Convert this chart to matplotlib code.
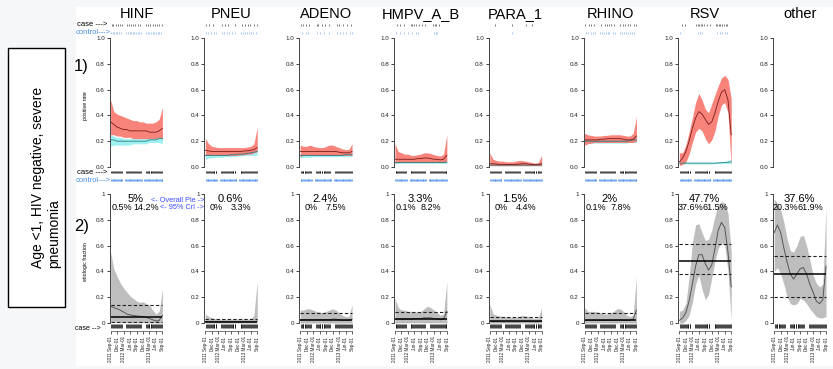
import matplotlib
matplotlib.use("Agg")
import matplotlib.pyplot as plt
from matplotlib.patches import Rectangle

plt.rcParams["font.family"] = ["Liberation Sans", "DejaVu Sans"]

W, H = 833, 369

PATHOGENS = ["HINF", "PNEU", "ADENO", "HMPV_A_B", "PARA_1", "RHINO", "RSV", "other"]

# months since 2011-09-01
MONTHS = [0, 1.5, 3, 4.5, 6, 7.5, 9, 10.5, 12, 13.5, 15, 16.5, 18, 19.5, 21, 22.5, 24]
DATE_TICKS = [0, 3, 6, 9, 12, 15, 18, 21, 24]
DATE_LABELS = ["2011 Sep-01", "Dec-01", "2012 Mar-01", "Jun-01", "Sep-01",
               "Dec-01", "2013 Mar-01", "Jun-01", "Sep-01"]

# ---- 1) positive rate: cases ----
CASE_MID = {
    "HINF":     [0.35, 0.33, 0.31, 0.30, 0.29, 0.29, 0.28, 0.28, 0.28, 0.28, 0.28, 0.28, 0.27, 0.27, 0.27, 0.28, 0.30],
    "PNEU":     [0.13, 0.125, 0.12, 0.12, 0.12, 0.12, 0.12, 0.12, 0.12, 0.12, 0.12, 0.12, 0.125, 0.125, 0.13, 0.135, 0.15],
    "ADENO":    [0.12, 0.12, 0.12, 0.12, 0.12, 0.12, 0.12, 0.12, 0.12, 0.12, 0.12, 0.12, 0.115, 0.11, 0.11, 0.11, 0.12],
    "HMPV_A_B": [0.06, 0.06, 0.06, 0.06, 0.06, 0.06, 0.06, 0.065, 0.065, 0.07, 0.07, 0.065, 0.06, 0.06, 0.055, 0.06, 0.09],
    "PARA_1":   [0.025, 0.025, 0.022, 0.02, 0.02, 0.02, 0.02, 0.02, 0.02, 0.022, 0.025, 0.025, 0.022, 0.02, 0.018, 0.018, 0.025],
    "RHINO":    [0.21, 0.21, 0.21, 0.21, 0.21, 0.215, 0.215, 0.22, 0.22, 0.22, 0.22, 0.22, 0.215, 0.21, 0.21, 0.215, 0.24],
    "RSV":      [0.04, 0.07, 0.12, 0.20, 0.30, 0.38, 0.43, 0.41, 0.37, 0.33, 0.35, 0.42, 0.51, 0.58, 0.60, 0.52, 0.25],
}
CASE_HI = {
    "HINF":     [0.52, 0.43, 0.41, 0.40, 0.39, 0.38, 0.37, 0.36, 0.36, 0.35, 0.35, 0.34, 0.34, 0.34, 0.35, 0.37, 0.46],
    "PNEU":     [0.22, 0.18, 0.16, 0.155, 0.15, 0.15, 0.15, 0.15, 0.15, 0.15, 0.15, 0.15, 0.15, 0.155, 0.16, 0.18, 0.31],
    "ADENO":    [0.17, 0.16, 0.16, 0.17, 0.16, 0.155, 0.15, 0.15, 0.16, 0.17, 0.17, 0.16, 0.15, 0.14, 0.135, 0.135, 0.18],
    "HMPV_A_B": [0.18, 0.12, 0.11, 0.10, 0.10, 0.09, 0.09, 0.095, 0.10, 0.11, 0.11, 0.105, 0.095, 0.09, 0.085, 0.10, 0.25],
    "PARA_1":   [0.11, 0.06, 0.05, 0.045, 0.045, 0.04, 0.04, 0.04, 0.045, 0.05, 0.05, 0.045, 0.04, 0.035, 0.03, 0.035, 0.09],
    "RHINO":    [0.26, 0.25, 0.245, 0.24, 0.24, 0.24, 0.245, 0.245, 0.25, 0.25, 0.25, 0.25, 0.245, 0.24, 0.24, 0.26, 0.39],
    "RSV":      [0.11, 0.11, 0.17, 0.27, 0.38, 0.50, 0.57, 0.52, 0.45, 0.42, 0.49, 0.56, 0.63, 0.69, 0.71, 0.68, 0.53],
}
CASE_LO = {
    "HINF":     [0.25, 0.25, 0.24, 0.24, 0.23, 0.23, 0.23, 0.22, 0.22, 0.22, 0.22, 0.22, 0.22, 0.22, 0.22, 0.23, 0.22],
    "PNEU":     [0.09, 0.09, 0.09, 0.09, 0.09, 0.09, 0.09, 0.09, 0.09, 0.09, 0.09, 0.095, 0.095, 0.10, 0.10, 0.11, 0.12],
    "ADENO":    [0.08, 0.09, 0.09, 0.09, 0.09, 0.09, 0.09, 0.09, 0.09, 0.09, 0.09, 0.09, 0.09, 0.09, 0.09, 0.09, 0.09],
    "HMPV_A_B": [0.03, 0.035, 0.035, 0.035, 0.035, 0.035, 0.035, 0.035, 0.035, 0.035, 0.035, 0.035, 0.035, 0.035, 0.035, 0.035, 0.04],
    "PARA_1":   [0.01, 0.01, 0.01, 0.01, 0.01, 0.01, 0.01, 0.01, 0.01, 0.01, 0.01, 0.01, 0.01, 0.01, 0.01, 0.01, 0.01],
    "RHINO":    [0.17, 0.18, 0.185, 0.19, 0.19, 0.19, 0.19, 0.19, 0.19, 0.19, 0.19, 0.19, 0.19, 0.19, 0.19, 0.19, 0.20],
    "RSV":      [0.01, 0.02, 0.04, 0.10, 0.19, 0.27, 0.30, 0.28, 0.22, 0.18, 0.21, 0.28, 0.40, 0.48, 0.50, 0.42, 0.00],
}

# ---- 1) positive rate: controls ----
CTRL_MID = {
    "HINF":     [0.21, 0.21, 0.20, 0.20, 0.20, 0.20, 0.20, 0.20, 0.20, 0.20, 0.20, 0.20, 0.21, 0.21, 0.21, 0.22, 0.22],
    "PNEU":     [0.09, 0.09, 0.09, 0.09, 0.09, 0.09, 0.09, 0.09, 0.095, 0.095, 0.10, 0.10, 0.10, 0.105, 0.11, 0.115, 0.12],
    "ADENO":    [0.09, 0.09, 0.09, 0.09, 0.09, 0.09, 0.09, 0.09, 0.09, 0.09, 0.09, 0.09, 0.09, 0.09, 0.095, 0.095, 0.095],
    "HMPV_A_B": [0.035, 0.035, 0.035, 0.035, 0.035, 0.035, 0.035, 0.035, 0.035, 0.035, 0.035, 0.035, 0.035, 0.035, 0.035, 0.036, 0.037],
    "PARA_1":   [0.015, 0.015, 0.015, 0.015, 0.015, 0.015, 0.015, 0.015, 0.015, 0.015, 0.015, 0.015, 0.015, 0.015, 0.015, 0.015, 0.016],
    "RHINO":    [0.20, 0.20, 0.20, 0.20, 0.20, 0.20, 0.20, 0.20, 0.20, 0.20, 0.20, 0.20, 0.20, 0.20, 0.205, 0.21, 0.21],
    "RSV":      [0.03, 0.03, 0.03, 0.03, 0.03, 0.03, 0.03, 0.03, 0.03, 0.03, 0.03, 0.03, 0.032, 0.033, 0.035, 0.037, 0.04],
}
CTRL_HI = {
    "HINF":     [0.25, 0.24, 0.23, 0.23, 0.22, 0.22, 0.22, 0.22, 0.22, 0.22, 0.22, 0.23, 0.23, 0.23, 0.24, 0.25, 0.27],
    "PNEU":     [0.11, 0.10, 0.10, 0.10, 0.10, 0.10, 0.10, 0.10, 0.105, 0.105, 0.11, 0.11, 0.115, 0.12, 0.125, 0.13, 0.14],
    "ADENO":    [0.10, 0.10, 0.10, 0.10, 0.10, 0.10, 0.10, 0.10, 0.10, 0.10, 0.10, 0.10, 0.10, 0.10, 0.105, 0.105, 0.11],
    "HMPV_A_B": [0.045, 0.044, 0.043, 0.043, 0.043, 0.043, 0.043, 0.043, 0.043, 0.043, 0.043, 0.043, 0.043, 0.043, 0.044, 0.046, 0.05],
    "PARA_1":   [0.022, 0.02, 0.02, 0.02, 0.02, 0.02, 0.02, 0.02, 0.02, 0.02, 0.02, 0.02, 0.02, 0.02, 0.02, 0.021, 0.024],
    "RHINO":    [0.22, 0.22, 0.215, 0.215, 0.215, 0.215, 0.215, 0.215, 0.215, 0.215, 0.215, 0.215, 0.215, 0.215, 0.22, 0.225, 0.23],
    "RSV":      [0.04, 0.038, 0.036, 0.036, 0.036, 0.036, 0.036, 0.036, 0.036, 0.036, 0.036, 0.037, 0.039, 0.041, 0.044, 0.05, 0.06],
}
CTRL_LO = {
    "HINF":     [0.16, 0.17, 0.17, 0.17, 0.17, 0.17, 0.17, 0.18, 0.18, 0.18, 0.18, 0.18, 0.19, 0.19, 0.19, 0.19, 0.18],
    "PNEU":     [0.06, 0.07, 0.07, 0.075, 0.075, 0.075, 0.08, 0.08, 0.08, 0.08, 0.085, 0.085, 0.09, 0.09, 0.09, 0.09, 0.09],
    "ADENO":    [0.07, 0.075, 0.075, 0.075, 0.08, 0.08, 0.08, 0.08, 0.08, 0.08, 0.08, 0.08, 0.08, 0.08, 0.08, 0.08, 0.08],
    "HMPV_A_B": [0.025, 0.027, 0.028, 0.028, 0.028, 0.028, 0.028, 0.028, 0.028, 0.028, 0.028, 0.028, 0.028, 0.028, 0.028, 0.027, 0.026],
    "PARA_1":   [0.009, 0.01, 0.01, 0.01, 0.01, 0.01, 0.01, 0.01, 0.01, 0.01, 0.01, 0.01, 0.01, 0.01, 0.01, 0.01, 0.009],
    "RHINO":    [0.175, 0.18, 0.185, 0.185, 0.185, 0.185, 0.185, 0.185, 0.185, 0.185, 0.185, 0.185, 0.185, 0.185, 0.19, 0.19, 0.19],
    "RSV":      [0.02, 0.022, 0.024, 0.024, 0.024, 0.024, 0.024, 0.024, 0.024, 0.024, 0.024, 0.025, 0.026, 0.027, 0.028, 0.028, 0.028],
}

# ---- 2) etiologic fraction ----
EF_MID = {
    "HINF":     [0.13, 0.12, 0.11, 0.10, 0.085, 0.07, 0.063, 0.058, 0.055, 0.052, 0.05, 0.043, 0.035, 0.025, 0.015, 0.02, 0.06],
    "PNEU":     [0.012, 0.01, 0.01, 0.01, 0.01, 0.01, 0.01, 0.01, 0.01, 0.01, 0.01, 0.01, 0.01, 0.01, 0.01, 0.01, 0.015],
    "ADENO":    [0.025, 0.025, 0.025, 0.025, 0.025, 0.025, 0.025, 0.025, 0.025, 0.025, 0.03, 0.03, 0.025, 0.02, 0.02, 0.02, 0.03],
    "HMPV_A_B": [0.03, 0.03, 0.03, 0.03, 0.03, 0.03, 0.035, 0.035, 0.035, 0.04, 0.04, 0.04, 0.035, 0.03, 0.025, 0.03, 0.09],
    "PARA_1":   [0.012, 0.01, 0.01, 0.01, 0.01, 0.01, 0.01, 0.01, 0.01, 0.01, 0.012, 0.012, 0.01, 0.01, 0.01, 0.01, 0.015],
    "RHINO":    [0.02, 0.02, 0.02, 0.02, 0.02, 0.02, 0.02, 0.02, 0.02, 0.02, 0.022, 0.022, 0.02, 0.02, 0.02, 0.03, 0.10],
    "RSV":      [0.02, 0.04, 0.08, 0.17, 0.30, 0.44, 0.53, 0.53, 0.46, 0.41, 0.45, 0.58, 0.72, 0.78, 0.74, 0.55, 0.28],
    "other":    [0.70, 0.76, 0.70, 0.58, 0.47, 0.38, 0.34, 0.38, 0.42, 0.43, 0.38, 0.30, 0.24, 0.17, 0.15, 0.18, 0.44],
}
EF_HI = {
    "HINF":     [0.55, 0.42, 0.36, 0.31, 0.27, 0.24, 0.21, 0.19, 0.17, 0.16, 0.165, 0.15, 0.14, 0.10, 0.07, 0.09, 0.26],
    "PNEU":     [0.07, 0.05, 0.04, 0.035, 0.03, 0.03, 0.03, 0.03, 0.03, 0.03, 0.03, 0.03, 0.03, 0.03, 0.03, 0.06, 0.33],
    "ADENO":    [0.10, 0.10, 0.11, 0.11, 0.10, 0.09, 0.085, 0.08, 0.09, 0.10, 0.11, 0.10, 0.08, 0.06, 0.05, 0.05, 0.14],
    "HMPV_A_B": [0.19, 0.12, 0.10, 0.10, 0.09, 0.09, 0.085, 0.085, 0.09, 0.11, 0.13, 0.12, 0.10, 0.08, 0.06, 0.07, 0.32],
    "PARA_1":   [0.15, 0.07, 0.06, 0.055, 0.05, 0.05, 0.045, 0.045, 0.045, 0.05, 0.06, 0.055, 0.045, 0.04, 0.035, 0.04, 0.12],
    "RHINO":    [0.12, 0.09, 0.09, 0.09, 0.085, 0.08, 0.07, 0.07, 0.08, 0.09, 0.11, 0.11, 0.09, 0.06, 0.05, 0.06, 0.36],
    "RSV":      [0.09, 0.10, 0.15, 0.35, 0.62, 0.76, 0.77, 0.70, 0.64, 0.65, 0.72, 0.83, 0.92, 0.94, 0.93, 0.85, 0.55],
    "other":    [0.96, 0.93, 0.88, 0.78, 0.65, 0.56, 0.55, 0.60, 0.67, 0.68, 0.60, 0.49, 0.37, 0.31, 0.28, 0.30, 0.90],
}
EF_LO = {
    "HINF":     [0.01, 0.006, 0.004, 0.003, 0.002, 0.002, 0.002, 0.002, 0.002, 0.002, 0.002, 0.002, 0.001, 0.001, 0.0, 0.0, 0.0],
    "PNEU":     [0.0, 0.0, 0.0, 0.0, 0.0, 0.0, 0.0, 0.0, 0.0, 0.0, 0.0, 0.0, 0.0, 0.0, 0.0, 0.0, 0.0],
    "ADENO":    [0.0, 0.0, 0.0, 0.0, 0.0, 0.0, 0.0, 0.0, 0.0, 0.0, 0.0, 0.0, 0.0, 0.0, 0.0, 0.0, 0.0],
    "HMPV_A_B": [0.0, 0.002, 0.002, 0.002, 0.002, 0.002, 0.002, 0.002, 0.002, 0.002, 0.002, 0.002, 0.002, 0.002, 0.001, 0.001, 0.0],
    "PARA_1":   [0.0, 0.0, 0.0, 0.0, 0.0, 0.0, 0.0, 0.0, 0.0, 0.0, 0.0, 0.0, 0.0, 0.0, 0.0, 0.0, 0.0],
    "RHINO":    [0.0, 0.001, 0.001, 0.001, 0.001, 0.001, 0.001, 0.001, 0.001, 0.001, 0.001, 0.001, 0.001, 0.001, 0.001, 0.0, 0.0],
    "RSV":      [0.0, 0.0, 0.02, 0.06, 0.16, 0.30, 0.37, 0.26, 0.18, 0.22, 0.35, 0.48, 0.58, 0.62, 0.60, 0.40, 0.02],
    "other":    [0.40, 0.43, 0.38, 0.30, 0.20, 0.15, 0.14, 0.15, 0.19, 0.18, 0.15, 0.11, 0.08, 0.05, 0.04, 0.04, 0.05],
}

PIE = [0.05, 0.006, 0.024, 0.033, 0.015, 0.02, 0.477, 0.376]
PIE_LO = [0.005, 0.0, 0.0, 0.001, 0.0, 0.001, 0.376, 0.203]
PIE_HI = [0.142, 0.033, 0.075, 0.082, 0.044, 0.078, 0.615, 0.52]
PIE_TEXT = ["5%", "0.6%", "2.4%", "3.3%", "1.5%", "2%", "47.7%", "37.6%"]
LO_TEXT = ["0.5%", "0%", "0%", "0.1%", "0%", "0.1%", "37.6%", "20.3%"]
HI_TEXT = ["14.2%", "3.3%", "7.5%", "8.2%", "4.4%", "7.8%", "61.5%", "61.9%"]

# enrolment dates (months) of all cases / controls
CASE_DATES = [0.3, 0.7, 1.1, 1.5, 2.0, 2.4, 2.9, 3.3, 3.8, 4.2, 4.7, 5.1,
              7.2, 7.6, 8.1, 8.5, 9.0, 9.4, 9.9, 10.3, 10.8, 11.2, 11.7, 12.1, 12.6, 13.0, 13.5, 13.9,
              16.3, 16.7, 17.1, 17.6, 18.0, 18.5, 18.9, 19.4, 19.8, 20.3, 20.7, 21.2, 21.6, 22.1, 22.5,
              23.0, 23.4, 23.8]
CTRL_DATES = [0.2, 0.6, 1.0, 1.4, 1.8, 2.2, 2.6, 3.0, 3.4, 3.8, 4.2, 4.6, 5.0, 5.4,
              6.8, 7.2, 7.6, 8.0, 8.4, 8.8, 9.2, 9.6, 10.0, 10.4, 10.8, 11.2, 11.6, 12.0, 12.4,
              12.8, 13.2, 13.6, 14.0, 14.4, 15.6, 16.0, 16.4, 16.8, 17.2, 17.6, 18.0, 18.4,
              18.8, 19.2, 19.6, 20.0, 20.4, 20.8, 21.2, 21.6, 22.0, 22.4, 22.8, 23.2, 23.6, 24.0]

# dates of positive cases / controls per pathogen
POS_CASE = {
    "HINF":     [0.5, 1.2, 2.5, 3.3, 4.5, 5.2, 7.5, 8.4, 9.5, 10.2, 11.5, 12.8, 13.6, 16.5, 17.4, 18.2, 19.5, 20.4, 21.3, 22.5, 23.6],
    "PNEU":     [0.3, 1.8, 3.5, 7.8, 9.2, 10.6, 13.5, 16.8, 18.2, 19.5, 20.8, 22.4, 23.7],
    "ADENO":    [0.4, 1.5, 2.6, 3.9, 7.6, 8.3, 10.1, 11.7, 13.2, 16.9, 18.0, 19.8, 21.6, 23.5],
    "HMPV_A_B": [0.8, 2.5, 4.2, 7.4, 8.1, 8.9, 9.8, 11.0, 12.3, 13.9, 17.7, 18.4, 19.1, 20.5],
    "PARA_1":   [2.5, 10.2, 16.8, 19.5],
    "RHINO":    [0.4, 2.1, 3.0, 4.3, 7.7, 9.3, 10.5, 11.4, 12.2, 13.8, 16.6, 17.8, 18.6, 19.9, 21.1, 22.7, 23.8],
    "RSV":      [1.0, 2.6, 7.6, 8.4, 9.1, 9.9, 10.6, 11.3, 13.0, 14.2, 16.8, 17.5, 18.3, 19.0, 19.8, 20.6, 21.4, 22.2],
}
POS_CTRL = {
    "HINF":     [0.4, 1.0, 1.6, 2.3, 3.1, 3.8, 4.6, 7.3, 8.0, 8.8, 9.5, 10.3, 11.0, 11.8, 12.5, 13.3, 14.0,
                 16.4, 17.2, 18.0, 18.8, 19.5, 20.3, 21.1, 21.9, 22.6, 23.4],
    "PNEU":     [0.3, 1.2, 2.6, 3.8, 4.9, 7.5, 8.6, 9.8, 10.9, 12.4, 13.7, 16.5, 17.6, 18.5, 19.3, 20.2, 21.0, 22.1, 23.5],
    "ADENO":    [1.0, 2.5, 3.7, 7.8, 9.4, 11.2, 13.4, 17.0, 18.6, 19.8, 21.4, 22.9, 23.8],
    "HMPV_A_B": [0.6, 2.3, 4.1, 6.2, 7.9, 9.8, 10.7, 18.2, 19.0, 19.6],
    "PARA_1":   [10.5],
    "RHINO":    [0.5, 1.8, 3.1, 4.0, 4.8, 7.3, 8.1, 9.0, 9.9, 10.7, 11.5, 13.1, 14.0, 16.5, 17.4, 18.3, 19.2,
                 20.1, 21.0, 22.0, 23.0],
    "RSV":      [0.5, 8.6, 9.4, 10.5, 17.6, 18.8, 19.5, 21.0, 22.2],
}

RED = "#f8766d"
CYAN = "#9ff0f0"
GREY_BAND = "#bebebe"
AXIS_COLOR = "#444444"
BLUE_RUG = "#4a8fe8"
BLUE_TEXT = "#3b4cff"

fig = plt.figure(figsize=(W / 100, H / 100), dpi=100, facecolor="#f6f7f8")
fig.add_artist(Rectangle((76 / W, 1 - 366 / H), (W - 76) / W, 359 / H,
                         transform=fig.transFigure, fc="white", ec="none", zorder=-10))


def px_axes(left, top, width, height):
    ax = fig.add_axes([left / W, 1 - (top + height) / H, width / W, height / H])
    ax.patch.set_visible(False)
    return ax


def ftext(x, y, s, **kw):
    fig.text(x / W, 1 - y / H, s, **kw)


def rug(ax, dates, y, half, color, lw=0.55):
    ax.vlines(dates, y - half, y + half, color=color, lw=lw, clip_on=False)


def style_left(ax, labels):
    for s in ("top", "right", "bottom"):
        ax.spines[s].set_visible(False)
    ax.spines["left"].set_color(AXIS_COLOR)
    ax.spines["left"].set_linewidth(0.7)
    ax.set_ylim(0, 1)
    ax.set_xlim(-0.5, 24.5)
    ax.set_yticks([0, 0.2, 0.4, 0.6, 0.8, 1.0])
    ax.set_yticklabels(labels)
    ax.tick_params(axis="y", length=2.2, width=0.6, labelsize=4.5, pad=1.2,
                   colors="#222222")
    ax.set_xticks([])


TOP_LABELS = ["0.0", "0.2", "0.4", "0.6", "0.8", "1.0"]
BOT_LABELS = ["0", "0.2", "0.4", "0.6", "0.8", "1"]

for i, name in enumerate(PATHOGENS):
    x0 = 109.5 + 94.8 * i
    ftext(x0 + 27, 14, name, fontsize=10.5, ha="center", va="center")

    # ---- top: positive rate ----
    ax = px_axes(x0, 38, 54, 129)
    style_left(ax, TOP_LABELS)
    if name in CASE_MID:
        ax.fill_between(MONTHS, CTRL_LO[name], CTRL_HI[name], color=CYAN, lw=0)
        ax.fill_between(MONTHS, CASE_LO[name], CASE_HI[name], color=RED, alpha=0.9, lw=0)
        ax.plot(MONTHS, CTRL_MID[name], color="#2a7f80", lw=0.6)
        ax.plot(MONTHS, CASE_MID[name], color="#7a1b1b", lw=0.6)
        rug(ax, POS_CASE[name], (167 - 25) / 129, 0.011, "#333333", 0.45)
        rug(ax, POS_CTRL[name], (167 - 33) / 129, 0.010, "#78aaf0", 0.45)
        rug(ax, CASE_DATES, (167 - 172) / 129, 0.010, "#111111")
        rug(ax, CTRL_DATES, (167 - 180) / 129, 0.010, BLUE_RUG)

    # ---- bottom: etiologic fraction ----
    bx = px_axes(x0, 194, 54, 129)
    style_left(bx, BOT_LABELS)
    bx.fill_between(MONTHS, EF_LO[name], EF_HI[name], color=GREY_BAND, lw=0)
    bx.plot(MONTHS, EF_MID[name], color="#555555", lw=0.7)
    bx.hlines(PIE[i], 0, 24, color="black", lw=1.1)
    bx.hlines([PIE_LO[i], PIE_HI[i]], 0, 24, color="#222222", lw=0.8,
              linestyles=(0, (3, 2)))
    rug(bx, CASE_DATES, -3 / 129, 0.014, "#111111")
    bx.spines["bottom"].set_visible(True)
    bx.spines["bottom"].set_position(("outward", 6))
    bx.spines["bottom"].set_bounds(0, 24)
    bx.spines["bottom"].set_linewidth(0.5)
    bx.spines["bottom"].set_color(AXIS_COLOR)
    bx.set_xticks(DATE_TICKS)
    bx.set_xticklabels(DATE_LABELS, rotation=90)
    bx.tick_params(axis="x", length=2.2, width=0.5, labelsize=3.3, pad=1,
                   colors="#222222")

    ftext(x0 + 26, 199, PIE_TEXT[i], fontsize=8, ha="center", va="center")
    ftext(x0 + 12, 207.5, LO_TEXT[i], fontsize=6.5, ha="center", va="center")
    ftext(x0 + 37, 207.5, HI_TEXT[i], fontsize=6.5, ha="center", va="center")

# row labels
ftext(74, 66, "1)", fontsize=12, va="center")
ftext(74, 226, "2)", fontsize=12, va="center")
ftext(86, 106, "positive rate", fontsize=3.8, rotation=90, ha="center", va="center")
ftext(86, 262, "etiologic fraction", fontsize=3.8, rotation=90, ha="center", va="center")

ftext(77, 25, "case --->", fontsize=5.5, va="center")
ftext(76, 33, "control--->", fontsize=5.5, va="center", color=BLUE_RUG)
ftext(77, 172, "case --->", fontsize=5.5, va="center")
ftext(76, 180, "control--->", fontsize=5.5, va="center", color=BLUE_RUG)
ftext(75, 328, "case -->", fontsize=5, va="center")

ftext(204, 200.5, "<- Overall Pie ->", fontsize=5.3, ha="right", va="center", color=BLUE_TEXT)
ftext(204, 208, "<- 95% CrI ->", fontsize=5.3, ha="right", va="center", color=BLUE_TEXT)

# left description box
fig.add_artist(Rectangle((8 / W, 1 - 307 / H), 57 / W, 259 / H,
                         transform=fig.transFigure, fc="white", ec="black", lw=1))
ftext(46, 177, "Age <1, HIV negative, severe\npneumonia", fontsize=10,
      rotation=90, ha="center", va="center", multialignment="left")

fig.savefig("out.png", dpi=100, facecolor=fig.get_facecolor())
